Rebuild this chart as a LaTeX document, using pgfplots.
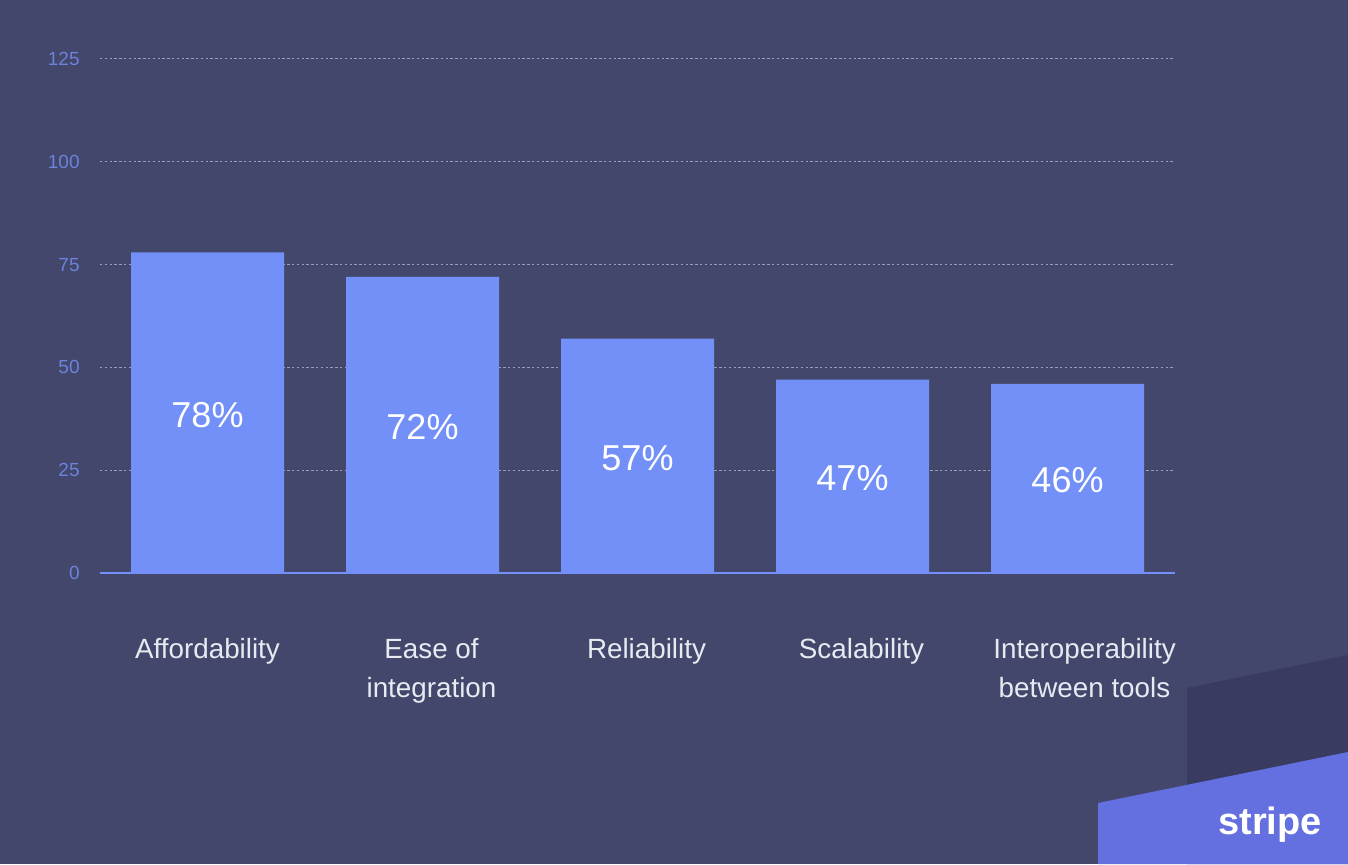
\documentclass[border=0pt]{standalone}
\usepackage{fontspec}
\setmainfont{Liberation Sans}
\usepackage{pgfplots}
\usepackage{pgfplotstable}
\pgfplotsset{compat=1.18}
\definecolor{bg}{HTML}{42476B}
\definecolor{barblue}{HTML}{7390F8}
\definecolor{tickblue}{HTML}{6C82DC}
\definecolor{gridgray}{HTML}{9A9DB5}
\definecolor{labelgray}{HTML}{E8EAF2}
\definecolor{darkshape}{HTML}{393B60}
\definecolor{stripeblue}{HTML}{6570E0}

\pgfplotstableread{
x v
0 78
1 72
2 57
3 47
4 46
}\datatable

\begin{document}
\begin{tikzpicture}[x=1pt,y=1pt]
\fill[bg] (0,0) rectangle (674,432);
\useasboundingbox (0,0) rectangle (674,432);
\fill[darkshape] (593.5,0) -- (593.5,88) -- (674,104.5) -- (674,0) -- cycle;
\fill[stripeblue] (549,0) -- (549,30.5) -- (674,56) -- (674,0) -- cycle;
\node[text=white, font=\fontsize{19}{22}\selectfont\bfseries] at (635,19.5) {stripe};
\begin{axis}[
  at={(50pt,145.5pt)}, anchor=south west,
  scale only axis, width=537.5pt, height=257pt,
  xmin=-0.5, xmax=4.5, ymin=0, ymax=125,
  ytick={0,25,50,75,100,125},
  xtick={0,1,2,3,4},
  xticklabels={{Affordability\hspace*{9pt}},{Ease of\\integration},Reliability,Scalability,{\hspace*{8pt}Interoperability\\\hspace*{8pt}between tools}},
  /pgf/number format/assume math mode=true,
  axis lines*=left,
  y axis line style={draw=none},
  x axis line style={draw=barblue, line width=0.8pt},
  major tick length=0pt,
  ymajorgrids,
  major grid style={gridgray, line width=0.5pt, dash pattern=on 1.2pt off 1.2pt},
  yticklabel style={font=\fontsize{9.5}{11}\selectfont, text=tickblue, anchor=east, inner sep=0pt, xshift=-10pt},
  xticklabel style={font=\fontsize{13.9}{19.5}\selectfont, text=labelgray, align=center, anchor=north, inner sep=0pt, yshift=-32.5pt, xshift=4.5pt},
  every node near coord/.append style={anchor=center, text=white, font=\fontsize{18}{20}\selectfont, yshift=-1pt},
]
\addplot[ybar, bar width=76.5pt, fill=barblue, draw=none] table[x=x, y=v] {\datatable};
\addplot[draw=none, mark=none, point meta=explicit,
  nodes near coords={\pgfmathprintnumber{\pgfplotspointmeta}\%}]
  table[x=x, y expr=\thisrow{v}/2, meta=v] {\datatable};
\end{axis}
\end{tikzpicture}
\end{document}
